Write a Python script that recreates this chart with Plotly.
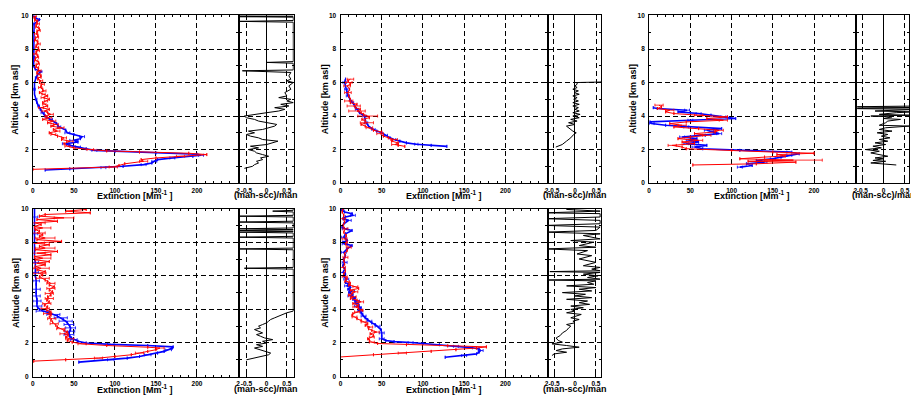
import plotly.graph_objects as go

# ---------------- DATA (altitude km, extinction Mm-1, error) ----------------
A_BLUE = [(0.78,15,0),(0.85,45,0),(0.92,86,3),(1.0,110,0),(1.1,135,3),(1.2,145,0),(1.3,148,3),(1.4,152,0),
          (1.5,170,3),(1.6,195,0),(1.66,205,3),(1.72,200,0),(1.8,150,0),(1.88,100,0),(1.95,75,3),(2.05,65,0),
          (2.15,55,3),(2.25,45,0),(2.35,40,4),(2.45,55,0),(2.55,50,5),(2.65,58,0),(2.77,60,3),(2.9,50,0),
          (3.0,42,3),(3.16,40,0),(3.35,32,2),(3.55,29,0),(3.8,22,2),(4.0,15,0),(4.2,12,2),(4.4,9,0),
          (4.6,7,1),(4.8,5,0),(5.0,4,1),(5.3,2,0),(5.6,2,1),(6.0,2,0),(6.3,4,1),(6.5,6,0),(6.65,10,1),
          (6.8,3,0),(7.0,1,0),(7.5,1,1),(8.0,1,0),(8.5,1,1),(9.0,1,0),(9.5,1.5,1),(9.75,8,0),(9.85,3,1),(10.0,1,0)]
A_RED = [(0.82,0,0),(0.96,98,5),(1.05,105,0),(1.15,112,0),(1.3,135,5),(1.4,132,0),(1.5,150,0),(1.6,180,5),
         (1.7,212,0),(1.78,190,0),(1.85,130,0),(1.92,90,0),(2.0,70,4),(2.1,50,0),(2.2,42,3),(2.35,38,0),
         (2.5,45,4),(2.6,35,0),(2.7,38,3),(2.8,30,0),(2.9,25,3),(3.0,20,0),(3.1,30,3),(3.2,25,0),(3.3,35,3),
         (3.4,22,0),(3.5,28,3),(3.6,18,0),(3.7,25,3),(3.8,12,0),(3.9,20,3),(4.0,15,0),(4.1,22,3),(4.2,18,0),
         (4.3,14,3),(4.4,20,0),(4.5,10,3),(4.6,18,0),(4.7,14,2),(4.8,12,0),(4.9,16,2),(5.0,20,0),(5.1,12,2),
         (5.2,18,0),(5.3,13,2),(5.4,8,0),(5.5,14,2),(5.6,12,0),(5.7,9,2),(5.8,10,0),(5.9,12,2),(6.0,8,0),
         (6.1,10,2),(6.2,6,0),(6.3,8,2),(6.4,10,0),(6.5,7,2),(6.6,5,0),(6.7,8,2),(6.8,7,0),(6.9,5,2),(7.0,4,0),
         (7.1,6,2),(7.2,7,0),(7.3,4,2),(7.4,3,0),(7.5,5,2),(7.6,6,0),(7.7,3,2),(7.8,4,0),(7.9,6,2),(8.0,7,0),
         (8.1,5,2),(8.2,4,0),(8.3,7,2),(8.4,6,0),(8.5,4,2),(8.6,3,0),(8.7,5,2),(8.8,6,0),(8.9,4,2),(9.0,5,0),
         (9.1,7,2),(9.2,8,0),(9.3,5,2),(9.4,4,0),(9.5,6,2),(9.6,5,0),(9.7,4,2),(9.8,3,0),(9.9,2,1),(10.0,4,0)]
A_RATIO = [(0.88,-0.55),(1.0,-0.35),(1.1,-0.3),(1.2,-0.2),(1.3,-0.25),(1.4,-0.1),(1.5,-0.15),(1.6,0.05),
           (1.7,-0.1),(1.8,-0.25),(1.9,-0.3),(2.0,-0.45),(2.1,-0.2),(2.2,-0.4),(2.3,0.0),(2.4,0.15),(2.5,0.28),
           (2.6,-0.1),(2.7,-0.2),(2.8,-0.4),(2.9,-0.5),(3.0,-0.3),(3.1,-0.45),(3.2,-0.1),(3.3,0.05),(3.4,0.2),
           (3.5,0.25),(3.6,0.05),(3.7,-0.2),(3.8,-0.3),(3.9,-0.5),(4.0,-0.55),(4.1,-0.2),(4.2,0.0),(4.3,0.3),
           (4.4,0.45),(4.5,0.2),(4.6,0.55),(4.7,0.35),(4.8,0.66),(4.9,0.5),(5.0,0.6),(5.1,0.3),(5.2,0.5),
           (5.4,0.45),(5.6,0.6),(5.8,0.55),(6.0,0.66),(6.1,0.5),(6.2,0.6),(6.4,0.55),(6.6,0.6),(6.7,-0.6),
           (6.75,0.66),(7.15,0.66),(7.2,0.0),(7.25,0.66),(9.6,0.66),(9.65,-0.66),(9.7,0.66),(9.9,0.66),
           (9.93,-0.66),(9.96,0.66),(10.0,-0.66)]

B_BLUE = [(2.19,129,0),(2.25,110,0),(2.32,92,2),(2.4,80,0),(2.5,72,0),(2.6,65,2),(2.7,60,0),(2.85,55,2),
          (3.0,50,0),(3.1,44,0),(3.2,40,2),(3.4,34,0),(3.6,31,2),(3.8,30,0),(4.0,29,2),(4.2,23,0),(4.4,20,2),
          (4.6,17,0),(4.8,14,2),(5.0,11,0),(5.2,9,2),(5.4,8,0),(5.6,7,2),(5.8,6,0),(6.0,5,2),(6.2,6,0)]
B_RED = [(2.19,78,0),(2.25,70,0),(2.3,66,4),(2.4,70,0),(2.5,62,0),(2.6,65,4),(2.7,58,0),(2.8,52,0),
         (2.95,48,4),(3.05,50,0),(3.15,40,0),(3.3,35,4),(3.4,30,0),(3.5,25,0),(3.6,32,8),(3.7,30,0),(3.8,26,0),
         (3.9,35,0),(4.0,33,12),(4.1,28,0),(4.2,25,0),(4.3,20,10),(4.4,24,0),(4.5,18,0),(4.6,16,8),(4.7,20,0),
         (4.8,12,0),(4.9,10,5),(5.0,12,0),(5.2,10,0),(5.4,9,4),(5.6,11,0),(5.8,8,4),(5.9,12,0),(6.0,10,4),
         (6.1,9,0),(6.2,12,4)]
B_RATIO = [(2.15,-0.45),(2.3,-0.3),(2.5,-0.2),(2.7,-0.1),(2.9,-0.03),(3.0,0.03),(3.1,-0.05),(3.3,-0.15),
           (3.4,-0.2),(3.5,0.0),(3.6,-0.15),(3.7,0.05),(3.8,-0.1),(3.9,0.1),(4.0,-0.05),(4.1,0.12),(4.2,-0.05),
           (4.3,0.1),(4.4,0.0),(4.5,0.08),(4.6,-0.05),(4.7,0.1),(4.8,-0.05),(4.9,0.08),(5.0,-0.03),(5.1,0.05),
           (5.2,-0.05),(5.3,0.1),(5.4,-0.02),(5.5,0.08),(5.6,-0.05),(5.7,0.05),(5.8,0.0),(5.9,0.05),(6.0,0.05),
           (6.03,0.62),(6.1,0.62)]

C_BLUE = [(0.95,110,3),(1.05,125,0),(1.15,118,0),(1.25,140,3),(1.35,130,0),(1.45,150,3),(1.55,160,0),
          (1.65,170,3),(1.75,182,0),(1.85,170,3),(1.95,110,0),(2.05,65,0),(2.15,55,3),(2.25,70,0),(2.35,45,3),
          (2.45,60,0),(2.55,48,3),(2.65,58,0),(2.75,40,3),(2.85,68,0),(2.95,85,3),(3.05,78,0),(3.15,70,3),
          (3.25,88,0),(3.35,45,3),(3.45,20,0),(3.55,3,3),(3.65,1,0),(3.75,50,3),(3.85,105,0),(3.95,90,3),
          (4.05,75,0),(4.15,60,3),(4.25,35,0),(4.35,46,3),(4.45,10,0),(4.5,5,0)]
C_RED = [(1.08,53,0),(1.15,130,0),(1.25,178,0),(1.3,120,0),(1.37,175,35),(1.45,110,0),(1.55,140,0),
         (1.62,165,0),(1.7,155,0),(1.78,200,0),(1.85,150,0),(1.95,100,0),(2.05,45,0),(2.15,40,0),(2.25,28,5),
         (2.35,55,0),(2.45,40,0),(2.55,60,5),(2.65,35,0),(2.75,50,0),(2.85,70,5),(2.95,55,0),(3.05,80,0),
         (3.15,85,5),(3.25,60,0),(3.35,30,0),(3.45,40,5),(3.55,25,0),(3.65,45,0),(3.75,90,5),(3.85,70,0),
         (3.95,95,0),(4.05,60,5),(4.15,30,0),(4.25,20,0),(4.35,25,5),(4.45,10,0),(4.55,15,0),(4.65,12,5)]
C_RATIO = [(1.08,0.3),(1.15,-0.1),(1.2,-0.3),(1.3,0.05),(1.35,-0.25),(1.45,0.0),(1.5,-0.2),(1.6,0.1),
           (1.7,-0.15),(1.8,-0.3),(1.9,-0.1),(2.0,-0.42),(2.1,-0.05),(2.2,-0.25),(2.3,0.05),(2.4,-0.2),(2.5,0.1),
           (2.6,-0.1),(2.7,0.15),(2.8,-0.05),(2.9,0.1),(3.0,-0.15),(3.1,0.2),(3.2,-0.1),(3.3,0.05),(3.4,0.6),
           (3.45,-0.1),(3.6,0.05),(3.7,0.1),(3.8,0.4),(3.85,0.0),(3.95,0.2),(4.0,-0.3),(4.05,0.6),(4.1,-0.1),
           (4.2,0.3),(4.25,0.7),(4.3,-0.2),(4.4,0.8),(4.45,-0.9),(4.5,0.9),(4.55,-0.9),(4.6,0.9)]

D_BLUE = [(0.86,56,0),(1.0,95,4),(1.1,115,0),(1.2,130,0),(1.3,140,4),(1.4,152,0),(1.5,160,0),(1.6,165,4),
          (1.7,170,0),(1.77,171,0),(1.85,140,0),(1.92,95,4),(2.0,65,0),(2.1,55,0),(2.2,50,4),(2.3,47,0),
          (2.4,45,0),(2.5,44,6),(2.6,44,0),(2.7,45,6),(2.8,46,0),(2.9,46,6),(3.0,45,0),(3.1,44,6),(3.2,42,0),
          (3.3,40,8),(3.4,37,0),(3.5,34,8),(3.6,30,0),(3.7,25,8),(3.8,20,0),(3.9,12,8),(4.0,8,0),(4.1,6,0),
          (4.2,5,6),(4.4,5,0),(4.5,5,5),(4.6,5,0),(4.8,4,5),(5.0,4,0),(5.2,4,5),(5.5,4,0),(5.7,4,4),(6.0,3,0),
          (6.2,3,4),(6.5,3,0),(6.8,3,4),(7.0,2,0),(7.5,2,0),(8.0,2,0),(8.5,2,4),(9.0,2,0),(9.5,2,4),(10.0,2,0)]
D_RED = [(0.92,1,0),(1.0,40,0),(1.1,80,5),(1.2,100,0),(1.3,120,0),(1.4,130,5),(1.5,140,0),(1.6,150,0),
         (1.7,155,5),(1.75,140,0),(1.85,90,0),(1.95,60,5),(2.05,48,0),(2.15,42,0),(2.25,45,5),(2.35,40,0),
         (2.45,43,0),(2.55,38,5),(2.65,42,0),(2.75,38,0),(2.85,34,5),(2.95,30,0),(3.05,28,0),(3.15,26,5),
         (3.25,24,0),(3.35,22,0),(3.45,23,5),(3.55,20,0),(3.65,22,0),(3.75,18,5),(3.85,22,0),(3.95,17,0),
         (4.05,15,5),(4.15,18,0),(4.25,14,0),(4.35,17,5),(4.45,20,0),(4.55,17,0),(4.65,20,5),(4.75,18,0),
         (4.85,22,0),(4.95,20,5),(5.05,24,0),(5.15,20,0),(5.25,22,5),(5.35,26,0),(5.45,20,0),(5.55,22,5),
         (5.65,18,0),(5.75,15,0),(5.85,12,8),(5.95,8,0),(6.05,12,0),(6.15,8,8),(6.25,15,0),(6.35,5,0),
         (6.45,10,10),(6.55,3,0),(6.65,15,0),(6.75,5,10),(6.85,20,0),(6.95,3,0),(7.05,12,10),(7.15,2,0),
         (7.25,22,0),(7.35,5,10),(7.45,30,0),(7.55,3,0),(7.65,15,12),(7.75,8,0),(7.85,20,0),(7.95,2,12),
         (8.05,35,0),(8.15,5,0),(8.25,15,12),(8.35,8,0),(8.45,12,0),(8.55,5,10),(8.65,8,0),(8.75,3,0),
         (8.85,12,10),(8.95,2,0),(9.05,10,0),(9.15,3,12),(9.25,30,0),(9.35,5,0),(9.45,38,12),(9.55,8,0),
         (9.65,15,0),(9.75,70,0),(9.85,40,0),(9.95,65,0)]
D_RATIO = [(1.0,-0.5),(1.1,-0.3),(1.2,-0.15),(1.3,0.05),(1.4,0.1),(1.5,-0.05),(1.6,-0.2),(1.7,-0.3),
           (1.8,-0.1),(1.9,-0.25),(2.0,0.0),(2.1,-0.1),(2.2,0.15),(2.3,-0.05),(2.4,-0.15),(2.5,-0.25),
           (2.6,-0.1),(2.7,-0.2),(2.8,-0.3),(2.9,-0.15),(3.0,-0.2),(3.1,-0.1),(3.2,0.0),(3.3,0.05),(3.4,0.1),
           (3.5,0.2),(3.6,0.3),(3.7,0.4),(3.8,0.5),(3.9,0.66),(6.4,0.66),(6.45,-0.55),(6.5,0.66),(7.55,0.66),
           (7.6,-0.66),(7.65,0.66),(8.25,0.66),(8.3,-0.66),(8.35,0.66),(8.55,0.66),(8.6,-0.66),(8.65,0.66),
           (8.7,-0.66),(8.75,0.66),(8.8,-0.66),(8.85,0.66),(9.15,0.66),(9.2,-0.66),(9.25,0.66),(9.5,0.66),
           (9.55,-0.66),(9.6,0.66),(9.8,0.66),(9.85,0.15),(9.9,0.66),(10.0,0.66)]

E_BLUE = [(1.15,127,0),(1.25,150,3),(1.35,165,0),(1.45,168,0),(1.55,170,3),(1.65,168,0),(1.72,160,0),
          (1.8,140,3),(1.9,120,0),(1.97,100,0),(2.03,85,3),(2.08,65,0),(2.15,55,0),(2.25,50,3),(2.4,50,0),
          (2.6,50,3),(2.8,49,0),(3.0,45,3),(3.1,42,0),(3.2,38,0),(3.3,35,3),(3.4,33,0),(3.5,30,0),(3.6,28,3),
          (3.7,27,0),(3.8,25,0),(3.9,24,3),(4.0,22,0),(4.1,25,0),(4.2,20,3),(4.3,22,0),(4.4,18,0),(4.5,20,3),
          (4.6,15,0),(4.7,18,0),(4.8,12,3),(4.9,15,0),(5.0,10,0),(5.1,14,3),(5.2,9,0),(5.3,12,0),(5.4,8,3),
          (5.5,10,0),(5.6,6,0),(5.8,7,3),(6.0,4,0),(6.1,6,0),(6.2,3,3),(6.4,5,0),(6.6,3,0),(6.8,5,3),(7.0,4,0),
          (7.2,6,0),(7.4,4,3),(7.6,8,0),(7.8,14,0),(7.9,5,3),(8.0,3,0),(8.1,8,0),(8.3,4,3),(8.5,6,0),(8.7,14,0),
          (8.8,5,3),(8.9,2,0),(9.1,4,0),(9.3,10,3),(9.4,3,0),(9.5,6,0),(9.6,15,3),(9.7,14,0),(9.8,5,0),
          (9.9,1,3),(10.0,3,0)]
E_RED = [(1.17,0,0),(1.3,40,0),(1.4,75,5),(1.5,110,0),(1.6,140,0),(1.7,165,0),(1.77,177,0),(1.83,130,0),
         (1.9,80,0),(1.97,45,0),(2.05,38,3),(2.15,35,0),(2.25,33,0),(2.35,38,3),(2.45,40,0),(2.55,36,0),
         (2.65,44,3),(2.75,38,0),(2.85,34,0),(2.95,36,3),(3.05,30,0),(3.15,33,0),(3.25,28,3),(3.35,25,0),
         (3.45,20,0),(3.55,17,3),(3.65,14,0),(3.75,15,0),(3.85,20,3),(3.95,27,0),(4.05,22,0),(4.15,18,3),
         (4.25,22,0),(4.35,15,0),(4.45,25,3),(4.55,20,0),(4.65,12,0),(4.75,16,3),(4.85,10,0),(4.95,14,0),
         (5.05,18,3),(5.15,12,0),(5.25,22,0),(5.35,18,3),(5.45,10,0),(5.55,12,0),(5.65,8,3),(5.75,6,0),
         (5.85,8,0),(5.95,5,3),(6.1,4,0),(6.3,6,0),(6.5,3,3),(6.7,5,0),(6.9,4,0),(7.1,6,3),(7.3,5,0),(7.5,8,0),
         (7.7,10,3),(7.9,6,0),(8.0,8,0),(8.2,5,3),(8.4,7,0),(8.6,4,0),(8.8,6,3),(9.0,3,0),(9.2,5,0),(9.4,3,3),
         (9.6,4,0),(9.8,2,0),(10.0,3,0)]
E_RATIO = [(1.25,-0.55),(1.35,-0.5),(1.45,-0.2),(1.55,-0.45),(1.65,-0.3),(1.75,0.1),(1.85,-0.2),(1.95,-0.55),
           (2.05,-0.3),(2.15,-0.4),(2.3,-0.45),(2.45,-0.35),(2.6,-0.3),(2.75,-0.2),(2.9,-0.15),(3.0,-0.1),
           (3.1,-0.2),(3.2,0.0),(3.3,-0.05),(3.4,0.1),(3.5,-0.1),(3.6,0.05),(3.7,0.15),(3.8,-0.2),(3.9,0.0),
           (4.0,-0.1),(4.1,0.2),(4.2,-0.1),(4.3,0.35),(4.4,0.1),(4.5,0.3),(4.6,-0.2),(4.7,0.4),(4.8,0.0),
           (4.9,0.25),(5.0,-0.3),(5.1,0.4),(5.2,0.1),(5.3,0.5),(5.4,-0.2),(5.5,0.45),(5.6,0.3),(5.7,0.5),
           (5.75,-0.7),(5.8,0.6),(5.9,0.3),(6.0,0.55),(6.1,0.2),(6.2,0.6),(6.25,-0.6),(6.3,0.6),(6.4,0.4),
           (6.5,0.6),(6.6,0.2),(6.8,0.5),(7.0,0.1),(7.2,0.4),(7.3,0.05),(7.5,0.3),(7.6,-0.7),(7.7,0.5),(7.8,0.1),
           (8.0,0.45),(8.1,-0.1),(8.2,0.6),(8.4,0.2),(8.5,0.6),(8.6,-0.7),(8.7,0.5),(8.9,0.6),(9.0,-0.7),
           (9.1,0.6),(9.3,0.6),(9.4,-0.7),(9.5,0.6),(9.7,0.6),(9.75,-0.7),(9.85,0.6),(9.95,-0.2),(10.0,0.0)]

MAIN_TICKS = [0, 50, 100, 150, 200, 250]
MAIN_TICKTEXT = ["0", "50", "100", "150", "200", "2"]
SIDE_TICKS = [-0.5, 0, 0.5]
SIDE_TICKTEXT = ["-0.5", "0", "0.5"]
ALT_TICKS = [0, 2, 4, 6, 8, 10]

# ---------------- LAYOUT (pixel geometry) ----------------
W, H = 911, 396
PANELS = [
    dict(blue=A_BLUE, red=A_RED, ratio=A_RATIO, main=(31, 237), side=(239, 293), y=(11.7, 182.3), srange=(-0.66, 0.67), ytx=13.5),
    dict(blue=B_BLUE, red=B_RED, ratio=B_RATIO, main=(340, 547), side=(549, 602), y=(11.7, 182.3), srange=(-0.62, 0.62), ytx=324.5),
    dict(blue=C_BLUE, red=C_RED, ratio=C_RATIO, main=(650, 857), side=(859, 911), y=(11.7, 182.3), srange=(-0.62, 0.60), ytx=634.5),
    dict(blue=D_BLUE, red=D_RED, ratio=D_RATIO, main=(31, 237), side=(239, 293), y=(208.3, 379.3), srange=(-0.66, 0.67), ytx=13.5),
    dict(blue=E_BLUE, red=E_RED, ratio=E_RATIO, main=(340, 547), side=(549, 602), y=(208.3, 379.3), srange=(-0.63, 0.63), ytx=324.5),
]

FONT = "Liberation Sans"
tickfont = dict(family=FONT, size=6.5, color="black", weight="bold")
titlefont = dict(family=FONT, size=9, color="black", weight="bold")
DASH = "5px,3px"

fig = go.Figure()
layout = dict(width=W, height=H, margin=dict(l=0, r=0, t=0, b=0), showlegend=False,
              paper_bgcolor="white", plot_bgcolor="white", annotations=[])


def errs(series):
    return [e if e else None for _, _, e in series]


for i, p in enumerate(PANELS):
    mi, si = 2 * i + 1, 2 * i + 2
    ydom = [1 - p["y"][1] / H, 1 - p["y"][0] / H]
    common = dict(showline=True, linecolor="black", linewidth=1, mirror="ticks", ticks="inside",
                  tickcolor="black", tickwidth=1, showgrid=True, gridcolor="black", gridwidth=1,
                  griddash=DASH, tickfont=tickfont)
    layout[f"xaxis{mi}"] = dict(common, domain=[p["main"][0] / W, p["main"][1] / W], range=[0, 250],
                                tickvals=MAIN_TICKS, ticktext=MAIN_TICKTEXT, ticklen=4, zeroline=False,
                                anchor=f"y{mi}", minor=dict(dtick=10, ticklen=2, ticks="inside", tickcolor="black", showgrid=False),
                                ticklabelstandoff=1)
    layout[f"yaxis{mi}"] = dict(common, domain=ydom, range=[0, 10], tickvals=ALT_TICKS, ticklen=4, zeroline=False,
                                anchor=f"x{mi}", minor=dict(dtick=1, ticklen=2, ticks="inside", tickcolor="black", showgrid=False),
                                ticklabelstandoff=2)
    layout[f"xaxis{si}"] = dict(common, domain=[p["side"][0] / W, p["side"][1] / W], range=list(p["srange"]),
                                tickvals=SIDE_TICKS, ticktext=SIDE_TICKTEXT, ticklen=4, zeroline=True,
                                zerolinecolor="black", zerolinewidth=1, anchor=f"y{si}", ticklabelstandoff=1)
    layout[f"yaxis{si}"] = dict(common, domain=ydom, range=[0, 10], tickvals=ALT_TICKS, ticklen=4, zeroline=False,
                                showticklabels=False, anchor=f"x{si}",
                                minor=dict(dtick=1, ticklen=2, ticks="inside", tickcolor="black", showgrid=False))

    for series, color, width in ((p["blue"], "#0000ff", 1.6), (p["red"], "#ff0000", 1.0)):
        fig.add_trace(go.Scatter(
            x=[v for _, v, _ in series], y=[a for a, _, _ in series], mode="lines",
            line=dict(color=color, width=width),
            error_x=dict(type="data", array=errs(series), color=color, thickness=0.8, width=1.5),
            xaxis=f"x{mi}", yaxis=f"y{mi}", hoverinfo="skip"))
    fig.add_trace(go.Scatter(
        x=[v for _, v in p["ratio"]], y=[a for a, _ in p["ratio"]], mode="lines",
        line=dict(color="black", width=1), xaxis=f"x{si}", yaxis=f"y{si}", hoverinfo="skip"))

    ybot = p["y"][1]
    ymid = (p["y"][0] + p["y"][1]) / 2
    layout["annotations"] += [
        dict(text="Extinction [Mm<sup>-1</sup> ]", xref="paper", yref="paper",
             x=(p["main"][0] + p["main"][1]) / 2 / W, y=1 - (ybot + 12.5) / H, showarrow=False,
             font=titlefont, xanchor="center", yanchor="middle"),
        dict(text="(man-scc)/man", xref="paper", yref="paper",
             x=(p["side"][0] + 26.5) / W, y=1 - (ybot + 12.5) / H, showarrow=False,
             font=titlefont, xanchor="center", yanchor="middle"),
        dict(text="Altitude [km asl]", xref="paper", yref="paper", textangle=-90,
             x=p["ytx"] / W, y=1 - ymid / H, showarrow=False, font=titlefont,
             xanchor="center", yanchor="middle"),
    ]

fig.update_layout(**layout)
fig.write_html("out.html")
